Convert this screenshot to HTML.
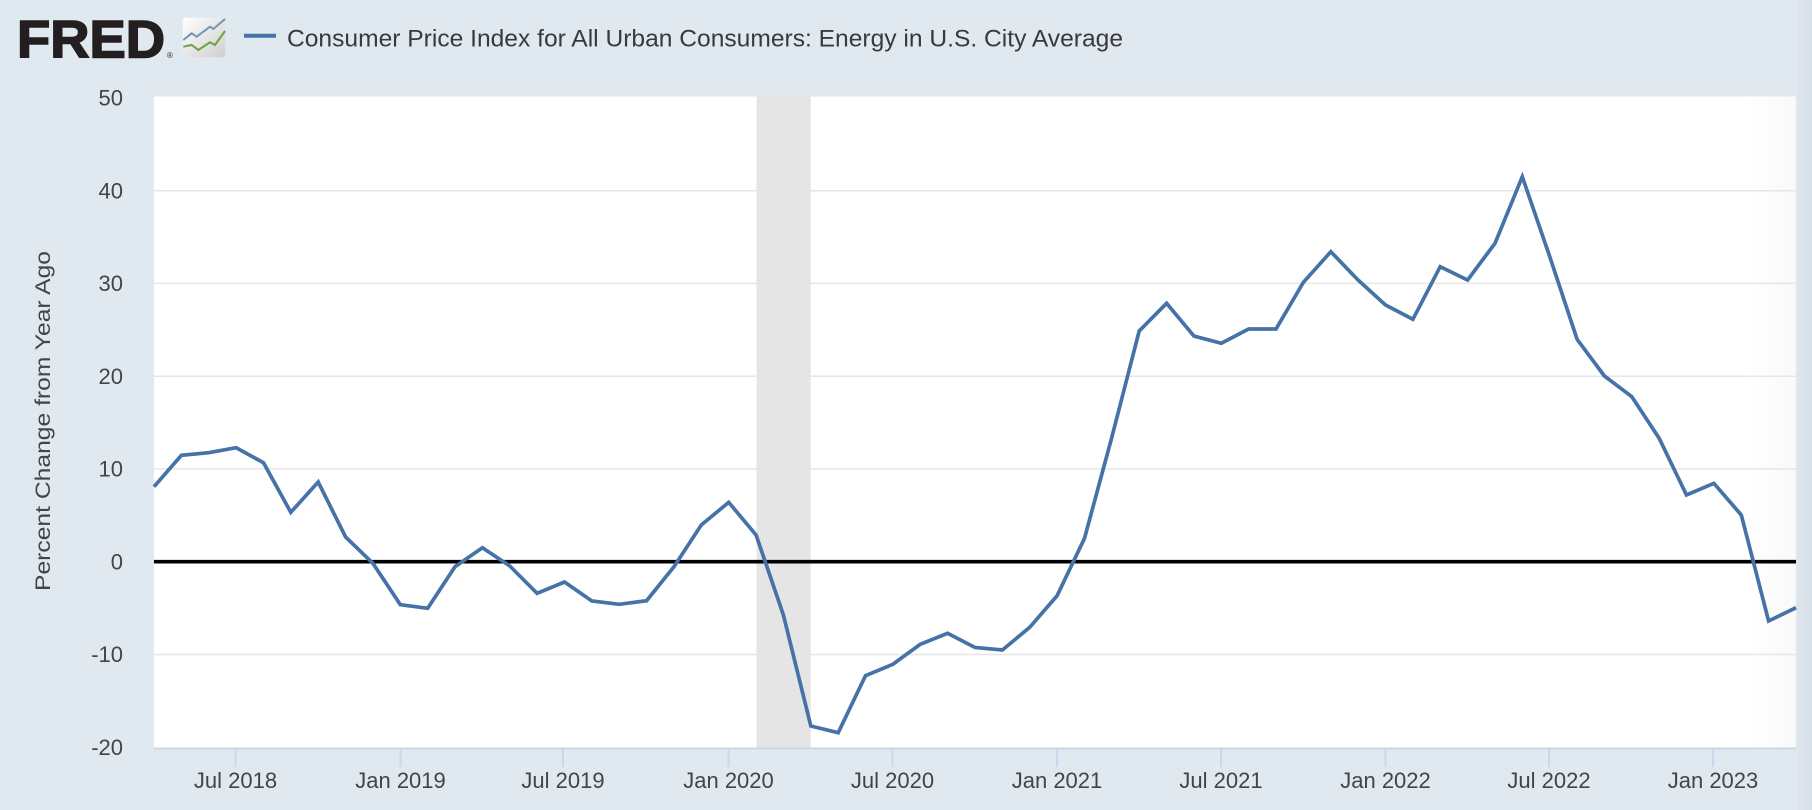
<!DOCTYPE html>
<html>
<head>
<meta charset="utf-8">
<style>
html,body{margin:0;padding:0;background:#e1e9f0;}
svg{display:block;}
text{font-family:"Liberation Sans",sans-serif;}
</style>
</head>
<body>
<svg width="1812" height="810" viewBox="0 0 1812 810" xmlns="http://www.w3.org/2000/svg">
  <defs>
    <linearGradient id="lg" x1="0" y1="0" x2="1" y2="1">
      <stop offset="0" stop-color="#ffffff"/>
      <stop offset="1" stop-color="#cfcfcf"/>
    </linearGradient>
    <linearGradient id="strip" x1="0" y1="0" x2="1" y2="0">
      <stop offset="0" stop-color="#dfe6ee"/>
      <stop offset="1" stop-color="#d6dee7"/>
    </linearGradient>
    <linearGradient id="plotg" x1="0" y1="0" x2="1" y2="0">
      <stop offset="0" stop-color="#ffffff"/>
      <stop offset="1" stop-color="#f9f9f9"/>
    </linearGradient>
  </defs>
  <rect x="0" y="0" width="1812" height="810" fill="#e1e9f0"/>
  <rect x="1797" y="0" width="15" height="810" fill="url(#strip)"/>

  <!-- Header -->
  <text x="17" y="57.3" font-size="53" font-weight="bold" fill="#231f20" stroke="#231f20" stroke-width="1.6" textLength="148" lengthAdjust="spacingAndGlyphs">FRED</text>
  <text x="167" y="58" font-size="8" fill="#231f20">®</text>
  <rect x="182.7" y="17.7" width="42.6" height="39.6" rx="3" fill="url(#lg)"/>
  <polyline points="183.3,40 191.7,33.3 196.7,36.7 210,26.7 213.3,29 225,19" fill="none" stroke="#6f97b5" stroke-width="2"/>
  <polyline points="183.3,46.7 191.7,45 198.3,50 210,42.3 215,45 225,31" fill="none" stroke="#6ea13e" stroke-width="2"/>
  <line x1="244" y1="35.7" x2="276" y2="35.7" stroke="#4572a7" stroke-width="4"/>
  <text x="287" y="46.5" font-size="24" fill="#3a3a3a" textLength="836" lengthAdjust="spacingAndGlyphs">Consumer Price Index for All Urban Consumers: Energy in U.S. City Average</text>

  <!-- Plot area -->
  <rect x="154" y="96" width="1642" height="652" fill="#ffffff"/>
  <rect x="1746" y="96" width="50" height="652" fill="url(#plotg)"/>
  <line x1="154" y1="96" x2="1796" y2="96" stroke="#e6e6e6" stroke-width="1"/>

  <!-- Gridlines -->
  <g stroke="#e6e6e6" stroke-width="1.5">
    <line x1="154" y1="190.7" x2="1796" y2="190.7"/>
    <line x1="154" y1="283.4" x2="1796" y2="283.4"/>
    <line x1="154" y1="376.2" x2="1796" y2="376.2"/>
    <line x1="154" y1="468.9" x2="1796" y2="468.9"/>
    <line x1="154" y1="654.5" x2="1796" y2="654.5"/>
  </g>

  <!-- Recession shading -->
  <rect x="756.5" y="96" width="54.2" height="652" fill="#e5e5e5"/>

  <!-- Zero line -->
  <line x1="154" y1="561.7" x2="1796" y2="561.7" stroke="#000000" stroke-width="3.6"/>

  <!-- X axis -->
  <line x1="154" y1="748.5" x2="1796" y2="748.5" stroke="#ccd6eb" stroke-width="2"/>
  <g stroke="#ccd6eb" stroke-width="2">
    <line x1="235.5" y1="748" x2="235.5" y2="767"/>
    <line x1="400.5" y1="748" x2="400.5" y2="767"/>
    <line x1="563" y1="748" x2="563" y2="767"/>
    <line x1="728.5" y1="748" x2="728.5" y2="767"/>
    <line x1="892.5" y1="748" x2="892.5" y2="767"/>
    <line x1="1057" y1="748" x2="1057" y2="767"/>
    <line x1="1221" y1="748" x2="1221" y2="767"/>
    <line x1="1385.5" y1="748" x2="1385.5" y2="767"/>
    <line x1="1549" y1="748" x2="1549" y2="767"/>
    <line x1="1713" y1="748" x2="1713" y2="767"/>
  </g>
  <g font-size="22" fill="#444444" text-anchor="middle">
    <text x="235.5" y="788">Jul 2018</text>
    <text x="400.5" y="788">Jan 2019</text>
    <text x="563" y="788">Jul 2019</text>
    <text x="728.5" y="788">Jan 2020</text>
    <text x="892.5" y="788">Jul 2020</text>
    <text x="1057" y="788">Jan 2021</text>
    <text x="1221" y="788">Jul 2021</text>
    <text x="1385.5" y="788">Jan 2022</text>
    <text x="1549" y="788">Jul 2022</text>
    <text x="1713" y="788">Jan 2023</text>
  </g>

  <!-- Y axis labels -->
  <g font-size="22" fill="#444444" text-anchor="end">
    <text x="123" y="105.5">50</text>
    <text x="123" y="198.4">40</text>
    <text x="123" y="291">30</text>
    <text x="123" y="383.9">20</text>
    <text x="123" y="476.6">10</text>
    <text x="123" y="569.4">0</text>
    <text x="123" y="662.2">-10</text>
    <text x="123" y="755">-20</text>
  </g>
  <text transform="translate(50,421) rotate(-90)" font-size="21" fill="#444444" text-anchor="middle" textLength="340" lengthAdjust="spacingAndGlyphs">Percent Change from Year Ago</text>

  <!-- Series -->
  <polyline fill="none" stroke="#4572a7" stroke-width="3.7" stroke-linejoin="miter" stroke-miterlimit="4"
    points="154,486.7 181.4,455.3 208.7,452.7 236.1,447.7 263.5,462.7 290.8,512.3 318.2,482 345.6,537 372.9,563.3 400.3,604.7 427.7,608.3 455,566.7 482.4,547.7 509.8,566 537.1,593.3 564.5,582 591.9,601 619.2,604.3 646.6,600.7 674,566.7 701.3,525 728.7,502.3 756.1,535 783.4,615 810.8,726 838.2,732.7 865.5,675.7 892.9,664.3 920.3,644.3 947.6,633.3 975,647.5 1002.4,650 1029.7,627.3 1057.1,595.7 1084.5,538.3 1111.8,437.4 1139.2,331 1166.6,303.3 1193.9,336 1221.3,343.3 1248.7,329 1276,329 1303.4,282.3 1330.8,251.7 1358.1,280 1385.5,305 1412.9,319.3 1440.2,266.7 1467.6,280 1495,243.3 1522.3,176.7 1549.7,256.5 1577.1,339.3 1604.4,376 1631.8,396.7 1659.2,438.3 1686.5,495 1713.9,483.3 1741.3,515 1768.6,621 1796,607.7"/>
</svg>
</body>
</html>
